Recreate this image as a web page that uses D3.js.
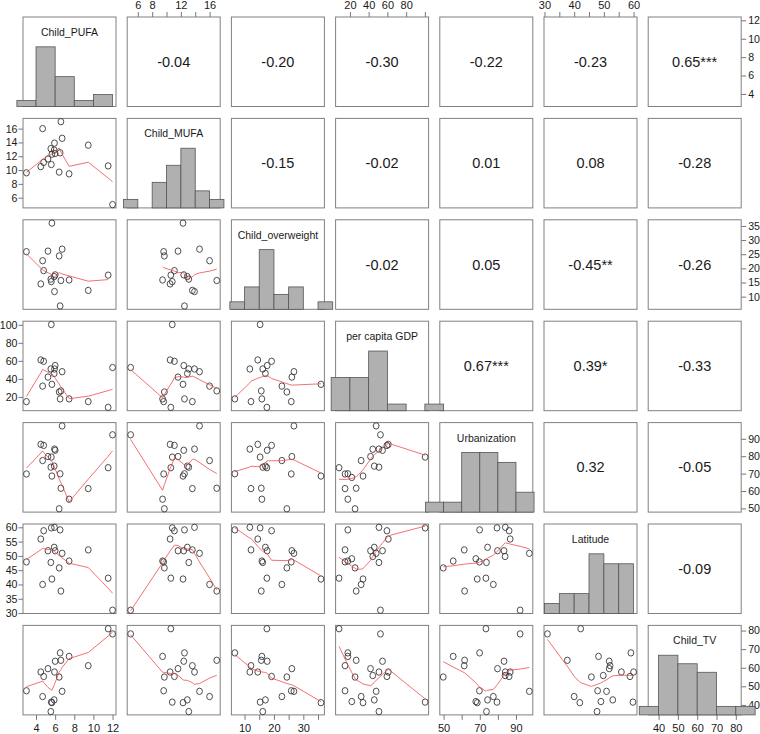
<!DOCTYPE html>
<html><head><meta charset="utf-8">
<script src="https://cdn.jsdelivr.net/npm/d3@7"></script>
<style>
body{margin:0;background:#fff;}
svg{display:block;font-family:"Liberation Sans",Arial,sans-serif;}
</style>
</head><body>
<svg id="chart" width="760" height="734"></svg>
<script>
// ---------------- data (one value per country, null = missing) ----------------
const varNames = ["Child_PUFA","Child_MUFA","Child_overweight","per capita GDP","Urbanization","Latitude","Child_TV"];
const childPUFA      = [3.0, 4.69, 6.6, 6.73, 5.93, 5.55, 5.9, 6.0, 5.66, 5.25, 4.8, 4.5, 5.6, 6.42, 7.46, 9.46, 11.54, 12.0, 6.52, null, null];
const childMUFA      = [9.6, 16.0, 17.0, 14.6, 13.9, 13.1, 12.9, 12.4, 12.3, 11.6, 11.1, 10.5, 10.8, 9.7, 9.45, 13.6, 10.6, 5.0, 12.5, null, null];
const childOverweight= [25.9, 22.7, 15.7, 26.8, 11.8, 16.2, 17.1, 17.7, 36.0, 26.1, 19.2, 14.5, 15.3, 24.4, 15.9, 12.2, 17.6, null, 6.7, null, null];
const gdpPerCapita   = [14.8, 32, 26.7, 48, 51, 51, 46, 54.8, 34, 42, 59.5, 61, 100.3, 25.5, 17.8, 14.8, 8.4, 52.6, 17.8, 22, 44.4];
const urbanization   = [69.8, 77.5, 61.6, 97.4, 84.1, 73.7, 74.3, 83.4, 68.6, 79.8, 86.2, 86.8, 79.5, 49.8, 55.3, 61.4, 73.4, 92.3, 69.9, 67.8, 84];
const latitude       = [47.9, 40, 37.7, 50.9, 60, 47.7, 53, 51.8, 41.9, 51.8, 58.8, 55.9, 59.8, 45.8, 48.2, 52.1, 42.2, 31, 59.1, 49.0, 49.8];
const childTV        = [47.6, 44.5, 64, 47.3, 57.7, 36.4, 42.7, 63.5, 41.2, 59.5, 55.3, 57.7, 41.5, 55, 66.1, 61.1, 81, 78.2, 68, 41.8, 55.8];

const histBreaks = [
  [2,4,6,8,10,12],
  [4,6,8,10,12,14,16,18],
  [5,10,15,20,25,30,35,40],
  [0,20,40,60,80,100,120],
  [40,50,60,70,80,90,100],
  [30,35,40,45,50,55,60],
  [30,40,50,60,70,80,90]
];
const axisTicks = [
  [4,6,8,10,12],
  [6,8,10,12,14,16],
  [10,15,20,25,30,35],
  [20,40,60,80,100],
  [50,60,70,80,90],
  [30,35,40,45,50,55,60],
  [40,50,60,70,80]
];
const hAxisLabels = [[4,6,8,10,12],[6,8,12,16],[10,20,30],[20,40,60,80],[50,70,90],[30,40,50,60],[40,50,60,70,80]];
const vAxisLabels = [[4,6,8,10,12],[6,8,10,12,14,16],[10,15,20,25,30,35],[20,40,60,80,100],[50,60,70,80,90],[30,35,40,45,50,55,60],[40,50,60,70,80]];
const corrLabels = [
  ["-0.04","-0.20","-0.30","-0.22","-0.23","0.65***"],
  ["-0.15","-0.02","0.01","0.08","-0.28"],
  ["-0.02","0.05","-0.45**","-0.26"],
  ["0.67***","0.39*","-0.33"],
  ["0.32","-0.05"],
  ["-0.09"]
];

// ---------------- layout ----------------
const svg = d3.select("#chart");
const dataCols = [childPUFA, childMUFA, childOverweight, gdpPerCapita, urbanization, latitude, childTV];
const N = dataCols.length;
const colX = j => 23 + j*104.2;
const rowY = i => 17 + i*101.4;
const PW = 93, PH = 89.5;
const BOX = "#808080", INK = "#1a1a1a";

function domainOf(vals){
  const v = vals.filter(d => d != null);
  const [a,b] = d3.extent(v); const r = b - a;
  return [a - 0.04*r, b + 0.04*r];
}
const xs = dataCols.map((v,j) => d3.scaleLinear().domain(domainOf(v)).range([colX(j), colX(j)+PW]));
const ys = dataCols.map((v,i) => d3.scaleLinear().domain(domainOf(v)).range([rowY(i)+PH, rowY(i)]));

// ---------------- R lowess (clowess port) ----------------
function lowess(xIn, yIn, f = 2/3, nsteps = 3){
  const idx = d3.range(xIn.length).sort((a,b) => xIn[a]-xIn[b]);
  const n = idx.length;
  const x = [0], y = [0];
  idx.forEach(k => { x.push(xIn[k]); y.push(yIn[k]); });
  const delta = 0.01*(x[n]-x[1]);
  const ysm = new Array(n+1).fill(0), rw = new Array(n+1).fill(1), res = new Array(n+1).fill(0);
  const ns = Math.max(2, Math.min(n, Math.floor(f*n + 1e-7)));
  function lowest(xsv, nleft, nright, userw){
    const range = x[n]-x[1];
    const h = Math.max(xsv - x[nleft], x[nright] - xsv);
    const h9 = 0.999*h, h1 = 0.001*h;
    const w = res;
    let a = 0, j = nleft;
    while (j <= n){
      w[j] = 0;
      const r = Math.abs(x[j]-xsv);
      if (r <= h9){
        w[j] = (r <= h1) ? 1 : Math.pow(1 - Math.pow(r/h,3), 3);
        if (userw) w[j] *= rw[j];
        a += w[j];
      } else if (x[j] > xsv) break;
      j++;
    }
    const nrt = j-1;
    if (a <= 0) return null;
    for (j = nleft; j <= nrt; j++) w[j] /= a;
    if (h > 0){
      a = 0;
      for (j = nleft; j <= nrt; j++) a += w[j]*x[j];
      let b = xsv - a, c = 0;
      for (j = nleft; j <= nrt; j++) c += w[j]*(x[j]-a)*(x[j]-a);
      if (Math.sqrt(c) > 0.001*range){
        b /= c;
        for (j = nleft; j <= nrt; j++) w[j] *= (b*(x[j]-a) + 1);
      }
    }
    let s = 0;
    for (j = nleft; j <= nrt; j++) s += w[j]*y[j];
    return s;
  }
  let iter = 1;
  while (iter <= nsteps+1){
    let nleft = 1, nright = ns, last = 0, i = 1;
    for(;;){
      if (nright < n){
        const d1 = x[i]-x[nleft], d2 = x[nright+1]-x[i];
        if (d1 > d2){ nleft++; nright++; continue; }
      }
      const v = lowest(x[i], nleft, nright, iter > 1);
      ysm[i] = (v === null) ? y[i] : v;
      if (last < i-1){
        const denom = x[i]-x[last];
        for (let j = last+1; j < i; j++){
          const alpha = (x[j]-x[last])/denom;
          ysm[j] = alpha*ysm[i] + (1-alpha)*ysm[last];
        }
      }
      last = i;
      const cut = x[last] + delta;
      for (i = last+1; i <= n; i++){
        if (x[i] > cut) break;
        if (x[i] === x[last]){ ysm[i] = ysm[last]; last = i; }
      }
      i = Math.max(last+1, i-1);
      if (last >= n) break;
    }
    for (let k = 1; k <= n; k++) res[k] = y[k]-ysm[k];
    let sc = 0; for (let k = 1; k <= n; k++) sc += Math.abs(res[k]); sc /= n;
    if (iter > nsteps) break;
    const ab = []; for (let k = 1; k <= n; k++) ab.push(Math.abs(res[k]));
    ab.sort((a,b) => a-b);
    const m1 = Math.floor(n/2);
    const cmad = (n % 2 === 0) ? 3*(ab[m1]+ab[n-m1-1]) : 6*ab[m1];
    if (cmad < 1e-7*sc) break;
    const c9 = 0.999*cmad, c1 = 0.001*cmad;
    for (let k = 1; k <= n; k++){
      const r = Math.abs(res[k]);
      rw[k] = r <= c1 ? 1 : (r <= c9 ? Math.pow(1 - Math.pow(r/cmad,2), 2) : 0);
    }
    iter++;
  }
  const out = [];
  for (let k = 1; k <= n; k++) out.push([x[k], ysm[k]]);
  return out;
}

function histCounts(vals, br){
  const v = vals.filter(d => d != null);
  return br.slice(0,-1).map((b0,k) => {
    const b1 = br[k+1];
    return v.filter(x => (k === 0 ? x >= b0 : x > b0) && x <= b1).length;
  });
}

// ---------------- panels ----------------
const gBoxes = svg.append("g");
const gPanels = svg.append("g");
const gAxes = svg.append("g");
const gHist = svg.append("g");
const gText = svg.append("g");

for (let i = 0; i < N; i++){
  for (let j = 0; j < N; j++){
    gBoxes.append("rect")
      .attr("x", colX(j)).attr("y", rowY(i)).attr("width", PW).attr("height", PH)
      .attr("fill", "none").attr("stroke", BOX).attr("stroke-width", 1);

    if (i > j){
      // scatter: x = var j, y = var i
      const pts = [];
      dataCols[j].forEach((xv,k) => {
        const yv = dataCols[i][k];
        if (xv != null && yv != null) pts.push([xv, yv]);
      });
      const g = gPanels.append("g");
      g.selectAll("ellipse").data(pts).join("ellipse")
        .attr("cx", d => xs[j](d[0])).attr("cy", d => ys[i](d[1]))
        .attr("rx", 2.9).attr("ry", 3.2).attr("fill", "none").attr("stroke", "#3a3a3a").attr("stroke-width", 0.9);
      const sm = lowess(pts.map(d => d[0]), pts.map(d => d[1]));
      g.append("path")
        .attr("d", d3.line().x(d => xs[j](d[0])).y(d => ys[i](d[1]))(sm))
        .attr("fill", "none").attr("stroke", "#ee4444").attr("stroke-width", 0.9).attr("stroke-opacity", 0.85);
    } else if (i < j){
      gText.append("text")
        .attr("x", colX(j)+PW/2).attr("y", rowY(i)+PH/2)
        .attr("text-anchor", "middle").attr("dominant-baseline", "central")
        .attr("font-size", 14.5).attr("fill", INK)
        .text(corrLabels[i][j-i-1]);
    }
  }
}

// ---------------- axes (R pairs layout) ----------------
function styleAxis(sel, fs){
  sel.select(".domain").remove();
  sel.selectAll(".tick line").attr("stroke", "#777");
  sel.selectAll(".tick text").attr("fill", INK).attr("font-size", fs || 11);
}
for (let j = 0; j < N; j++){
  const ticks = axisTicks[j];
  const fmt = d => hAxisLabels[j].includes(d) ? String(d) : "";
  if (j % 2 === 1){
    const g = gAxes.append("g").attr("transform", `translate(0,${rowY(0)})`)
      .call(d3.axisTop(xs[j]).tickValues(ticks).tickSize(5).tickPadding(3).tickFormat(fmt));
    styleAxis(g);
  } else {
    const g = gAxes.append("g").attr("transform", `translate(0,${rowY(N-1)+PH})`)
      .call(d3.axisBottom(xs[j]).tickValues(ticks).tickSize(5).tickPadding(4).tickFormat(fmt));
    styleAxis(g);
  }
}
for (let i = 0; i < N; i++){
  const ticks = axisTicks[i];
  const fmt = d => vAxisLabels[i].includes(d) ? String(d) : "";
  if (i % 2 === 1){
    const g = gAxes.append("g").attr("transform", `translate(${colX(0)},0)`)
      .call(d3.axisLeft(ys[i]).tickValues(ticks).tickSize(4.5).tickPadding(1).tickFormat(fmt));
    styleAxis(g, 10.6);
  } else {
    const g = gAxes.append("g").attr("transform", `translate(${colX(N-1)+PW},0)`)
      .call(d3.axisRight(ys[i]).tickValues(ticks).tickSize(5).tickPadding(2).tickFormat(fmt));
    styleAxis(g, 10.6);
  }
}

// ---------------- diagonal histograms + labels ----------------
for (let k = 0; k < N; k++){
  const br = histBreaks[k];
  const counts = histCounts(dataCols[k], br);
  const mx = d3.max(counts);
  const base = rowY(k)+PH;
  const hy = d3.scaleLinear().domain([0, 1.5]).range([base, rowY(k)]);
  const bars = counts.map((c,b) => ({x0: br[b], x1: br[b+1], v: c/mx}));
  gHist.append("g").selectAll("rect").data(bars).join("rect")
    .attr("x", d => xs[k](d.x0)).attr("width", d => xs[k](d.x1) - xs[k](d.x0))
    .attr("y", d => hy(d.v)).attr("height", d => base - hy(d.v))
    .attr("fill", "#b0b0b0").attr("stroke", "#555").attr("stroke-width", 0.8);
  gText.append("text")
    .attr("x", colX(k)+PW/2).attr("y", rowY(k)+15)
    .attr("text-anchor", "middle").attr("dominant-baseline", "central")
    .attr("font-size", 10.5).attr("fill", INK)
    .text(varNames[k]);
}
</script>
</body></html>
